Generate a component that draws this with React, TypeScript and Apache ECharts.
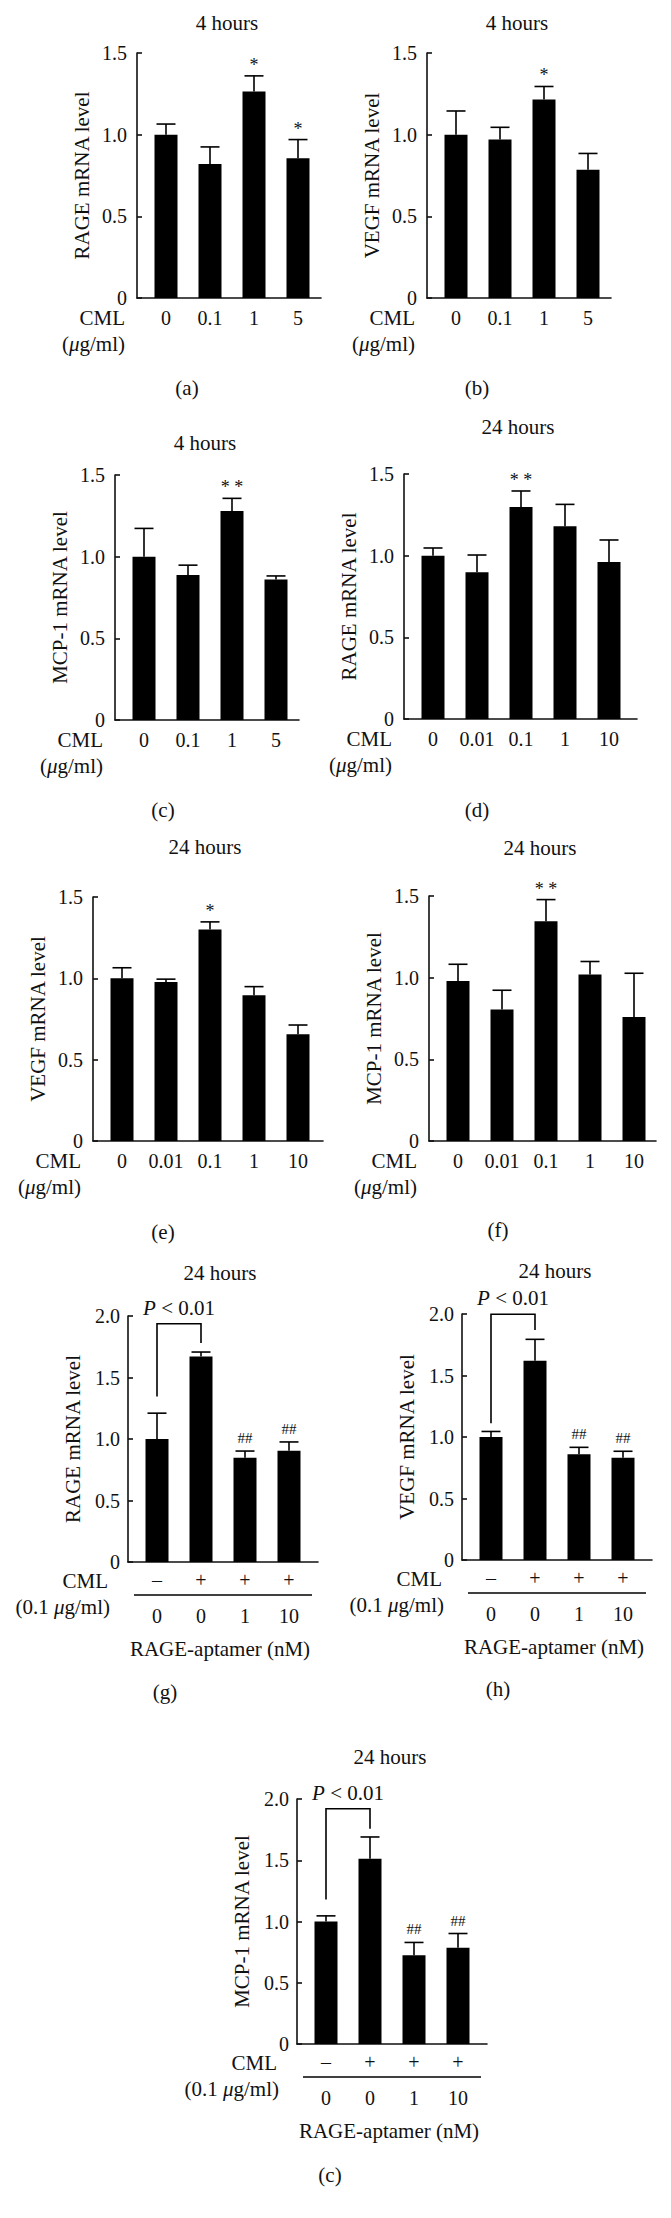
import React, { useEffect, useRef } from 'react';
import * as echarts from 'echarts';

const W = 671;
const H = 2218;
const FONT = '"Liberation Serif", "Times New Roman", serif';

// ---------- data ----------
const dose4h = ['0', '0.1', '1', '5'];
const dose24h = ['0', '0.01', '0.1', '1', '10'];
const aptCML = ['\u2013', '+', '+', '+'];
const aptDose = ['0', '0', '1', '10'];

const rage4hMean = [1.0, 0.82, 1.265, 0.855];
const rage4hErr = [0.065, 0.105, 0.095, 0.115];
const rage4hSig = ['', '', '*', '*'];

const vegf4hMean = [1.0, 0.97, 1.215, 0.785];
const vegf4hErr = [0.145, 0.075, 0.08, 0.1];
const vegf4hSig = ['', '', '*', ''];

const mcp4hMean = [1.0, 0.888, 1.28, 0.86];
const mcp4hErr = [0.173, 0.06, 0.077, 0.022];
const mcp4hSig = ['', '', '* *', ''];

const rage24hMean = [1.0, 0.898, 1.298, 1.18, 0.961];
const rage24hErr = [0.047, 0.106, 0.098, 0.134, 0.135];
const rage24hSig = ['', '', '* *', '', ''];

const vegf24hMean = [1.0, 0.977, 1.3, 0.896, 0.656];
const vegf24hErr = [0.065, 0.018, 0.047, 0.053, 0.057];
const vegf24hSig = ['', '', '*', '', ''];

const mcp24hMean = [0.98, 0.805, 1.345, 1.019, 0.759];
const mcp24hErr = [0.102, 0.118, 0.133, 0.08, 0.268];
const mcp24hSig = ['', '', '* *', '', ''];

const rageAptMean = [1.0, 1.671, 0.848, 0.905];
const rageAptErr = [0.21, 0.036, 0.054, 0.071];
const vegfAptMean = [1.0, 1.62, 0.859, 0.832];
const vegfAptErr = [0.045, 0.174, 0.057, 0.052];
const mcpAptMean = [1.0, 1.513, 0.725, 0.785];
const mcpAptErr = [0.046, 0.177, 0.104, 0.117];
const aptSig = ['', '', '##', '##'];

// bracket: [fromCat, toCat, leftLegBottom, top, rightLegBottom]
const rageAptBracket = [0, 1, 1.345, 1.937, 1.78];
const vegfAptBracket = [0, 1, 1.111, 1.998, 1.87];
const mcpAptBracket = [0, 1, 1.18, 1.921, 1.758];

const yTicks4 = [0, 0.5, 1.0, 1.5];
const yTicksApt = [0, 0.5, 1.0, 1.5, 2.0];

type Panel = {
  title: string;
  letter: string;
  yName: string;
  cats: string[];
  mean: number[];
  err: number[];
  sig: string[];
  yTicks: number[];
  apt: boolean;
  bracket?: number[];
};

const panels: Panel[] = [
  { title: '4 hours', letter: '(a)', yName: 'RAGE mRNA level', cats: dose4h, mean: rage4hMean, err: rage4hErr, sig: rage4hSig, yTicks: yTicks4, apt: false },
  { title: '4 hours', letter: '(b)', yName: 'VEGF mRNA level', cats: dose4h, mean: vegf4hMean, err: vegf4hErr, sig: vegf4hSig, yTicks: yTicks4, apt: false },
  { title: '4 hours', letter: '(c)', yName: 'MCP-1 mRNA level', cats: dose4h, mean: mcp4hMean, err: mcp4hErr, sig: mcp4hSig, yTicks: yTicks4, apt: false },
  { title: '24 hours', letter: '(d)', yName: 'RAGE mRNA level', cats: dose24h, mean: rage24hMean, err: rage24hErr, sig: rage24hSig, yTicks: yTicks4, apt: false },
  { title: '24 hours', letter: '(e)', yName: 'VEGF mRNA level', cats: dose24h, mean: vegf24hMean, err: vegf24hErr, sig: vegf24hSig, yTicks: yTicks4, apt: false },
  { title: '24 hours', letter: '(f)', yName: 'MCP-1 mRNA level', cats: dose24h, mean: mcp24hMean, err: mcp24hErr, sig: mcp24hSig, yTicks: yTicks4, apt: false },
  { title: '24 hours', letter: '(g)', yName: 'RAGE mRNA level', cats: aptDose, mean: rageAptMean, err: rageAptErr, sig: aptSig, yTicks: yTicksApt, apt: true, bracket: rageAptBracket },
  { title: '24 hours', letter: '(h)', yName: 'VEGF mRNA level', cats: aptDose, mean: vegfAptMean, err: vegfAptErr, sig: aptSig, yTicks: yTicksApt, apt: true, bracket: vegfAptBracket },
  { title: '24 hours', letter: '(c)', yName: 'MCP-1 mRNA level', cats: aptDose, mean: mcpAptMean, err: mcpAptErr, sig: aptSig, yTicks: yTicksApt, apt: true, bracket: mcpAptBracket },
];

// ---------- layout (positions only) ----------
const FIRST_OFF = 29;
const SPACING = 44;
const layouts = [
  { left: 137, top: 53, h: 245, lastOff: 23, titleX: 227, titleY: 23, letterX: 187, letterY: 388 },
  { left: 427, top: 53, h: 245, lastOff: 23, titleX: 517, titleY: 23, letterX: 477, letterY: 388 },
  { left: 115, top: 475, h: 245, lastOff: 23, titleX: 205, titleY: 443, letterX: 163, letterY: 810 },
  { left: 404, top: 474, h: 245, lastOff: 28, titleX: 518, titleY: 427, letterX: 477, letterY: 810 },
  { left: 93, top: 897, h: 244, lastOff: 25, titleX: 205, titleY: 847, letterX: 163, letterY: 1232 },
  { left: 429, top: 896, h: 245, lastOff: 22, titleX: 540, titleY: 848, letterX: 498, letterY: 1230 },
  { left: 128, top: 1316, h: 246, lastOff: 29, titleX: 220, titleY: 1273, letterX: 165, letterY: 1692 },
  { left: 462, top: 1314, h: 246, lastOff: 29, titleX: 555, titleY: 1271, letterX: 498, letterY: 1689 },
  { left: 297, top: 1799, h: 245, lastOff: 29, titleX: 390, titleY: 1757, letterX: 330, letterY: 2175 },
];

const BLACK = '#111';
const TXT = (extra: any) => ({ fontFamily: FONT, fill: BLACK, ...extra });

function buildOption() {
  const grid: any[] = [];
  const xAxis: any[] = [];
  const yAxis: any[] = [];
  const series: any[] = [];
  const graphic: any[] = [];

  panels.forEach((p, i) => {
    const L = layouts[i];
    const n = p.cats.length;
    const width = FIRST_OFF + (n - 1) * SPACING + L.lastOff;
    const yMax = p.yTicks[p.yTicks.length - 1];
    grid.push({ left: L.left, top: L.top, width, height: L.h, containLabel: false });
    xAxis.push({
      gridIndex: i,
      type: 'value',
      min: -FIRST_OFF / SPACING,
      max: n - 1 + L.lastOff / SPACING,
      axisLine: { show: true, onZero: false, lineStyle: { color: BLACK, width: 1.6 } },
      axisTick: { show: false },
      axisLabel: { show: false },
      splitLine: { show: false },
    });
    yAxis.push({
      gridIndex: i,
      type: 'value',
      min: 0,
      max: yMax,
      interval: 0.5,
      name: p.yName,
      nameLocation: 'middle',
      nameGap: 45,
      nameTextStyle: { fontFamily: FONT, fontSize: 21, color: BLACK },
      axisLine: { show: true, onZero: false, lineStyle: { color: BLACK, width: 1.6 } },
      axisTick: { show: true, inside: true, length: 5, lineStyle: { color: BLACK, width: 1.6 } },
      axisLabel: {
        margin: p.apt ? 8 : 10,
        fontFamily: FONT,
        fontSize: 20,
        color: BLACK,
        formatter: (v: number) => (v === 0 ? '0' : v.toFixed(1)),
      },
      splitLine: { show: false },
    });

    // bars
    series.push({
      type: 'bar',
      xAxisIndex: i,
      yAxisIndex: i,
      barWidth: 23,
      itemStyle: { color: '#000' },
      data: p.mean.map((m, j) => [j, m]),
      z: 2,
    });
    // error bars
    series.push({
      type: 'custom',
      xAxisIndex: i,
      yAxisIndex: i,
      clip: false,
      z: 3,
      data: p.mean.map((m, j) => [j, m, p.err[j]]),
      renderItem: (params: any, api: any) => {
        const x = api.value(0);
        const m = api.value(1);
        const e = api.value(2);
        const base = api.coord([x, m]);
        const top = api.coord([x, m + e]);
        const st = { stroke: '#000', lineWidth: 1.6 };
        return {
          type: 'group',
          children: [
            { type: 'line', shape: { x1: top[0], y1: base[1], x2: top[0], y2: top[1] }, style: st },
            { type: 'line', shape: { x1: top[0] - 9.5, y1: top[1], x2: top[0] + 9.5, y2: top[1] }, style: st },
          ],
        };
      },
    });
    // significance marks
    series.push({
      type: 'custom',
      xAxisIndex: i,
      yAxisIndex: i,
      clip: false,
      z: 4,
      data: p.mean.map((m, j) => [j, m + p.err[j]]),
      renderItem: (params: any, api: any) => {
        const s = p.sig[params.dataIndex];
        if (!s) return null;
        const pt = api.coord([api.value(0), api.value(1)]);
        const isHash = s.indexOf('#') >= 0;
        return {
          type: 'text',
          x: pt[0],
          y: pt[1] - (isHash ? 13 : 11),
          style: TXT({ text: s, fontSize: isHash ? 15 : 18, textAlign: 'center', textVerticalAlign: 'middle' }),
        };
      },
    });
    // category labels (x tick labels)
    series.push({
      type: 'custom',
      xAxisIndex: i,
      yAxisIndex: i,
      clip: false,
      z: 4,
      data: p.cats.map((c, j) => [j, 0]),
      renderItem: (params: any, api: any) => {
        const pt = api.coord([api.value(0), 0]);
        const children: any[] = [];
        if (p.apt) {
          children.push({
            type: 'text', x: pt[0], y: pt[1] + 18,
            style: TXT({ text: aptCML[params.dataIndex], fontSize: 20, textAlign: 'center', textVerticalAlign: 'middle' }),
          });
          children.push({
            type: 'text', x: pt[0], y: pt[1] + 54,
            style: TXT({ text: p.cats[params.dataIndex], fontSize: 20, textAlign: 'center', textVerticalAlign: 'middle' }),
          });
        } else {
          children.push({
            type: 'text', x: pt[0], y: pt[1] + 20,
            style: TXT({ text: p.cats[params.dataIndex], fontSize: 20, textAlign: 'center', textVerticalAlign: 'middle' }),
          });
        }
        return { type: 'group', children };
      },
    });
    // bracket
    if (p.bracket) {
      const b = p.bracket;
      series.push({
        type: 'custom',
        xAxisIndex: i,
        yAxisIndex: i,
        clip: false,
        z: 4,
        data: [b],
        renderItem: (params: any, api: any) => {
          const x1 = api.value(0), x2 = api.value(1);
          const yl = api.value(2), yt = api.value(3), yr = api.value(4);
          const p1 = api.coord([x1, yl]);
          const p2 = api.coord([x1, yt]);
          const p3 = api.coord([x2, yt]);
          const p4 = api.coord([x2, yr]);
          return {
            type: 'group',
            children: [
              { type: 'polyline', shape: { points: [p1, p2, p3, p4] }, style: { stroke: '#000', lineWidth: 1.6, fill: null } },
              {
                type: 'text', x: (p2[0] + p3[0]) / 2, y: p2[1] - 16,
                style: TXT({
                  text: '{i|P} < 0.01', fontSize: 21, textAlign: 'center', textVerticalAlign: 'middle',
                  rich: { i: { fontStyle: 'italic', fontFamily: FONT, fontSize: 21, fill: BLACK } },
                }),
              },
            ],
          };
        },
      });
    }

    // graphic texts
    graphic.push({ type: 'text', x: L.titleX, y: L.titleY, style: TXT({ text: p.title, fontSize: 21, textAlign: 'center', textVerticalAlign: 'middle' }) });
    graphic.push({ type: 'text', x: L.letterX, y: L.letterY, style: TXT({ text: p.letter, fontSize: 21, textAlign: 'center', textVerticalAlign: 'middle' }) });
    const bottom = L.top + L.h;
    if (p.apt) {
      graphic.push({ type: 'text', x: L.left - 20, y: bottom + 19, style: TXT({ text: 'CML', fontSize: 21, textAlign: 'right', textVerticalAlign: 'middle' }) });
      graphic.push({
        type: 'text', x: L.left - 18, y: bottom + 45,
        style: TXT({
          text: '(0.1 {i|\u03bc}g/ml)', fontSize: 21, textAlign: 'right', textVerticalAlign: 'middle',
          rich: { i: { fontStyle: 'italic', fontFamily: FONT, fontSize: 21, fill: BLACK } },
        }),
      });
      graphic.push({
        type: 'line', shape: { x1: L.left + 6, y1: bottom + 33, x2: L.left + width - 6, y2: bottom + 33 },
        style: { stroke: '#000', lineWidth: 1.6 },
      });
      graphic.push({ type: 'text', x: L.left + width / 2 - 3, y: bottom + 87, style: TXT({ text: 'RAGE-aptamer (nM)', fontSize: 21, textAlign: 'center', textVerticalAlign: 'middle' }) });
    } else {
      graphic.push({ type: 'text', x: L.left - 12, y: bottom + 20, style: TXT({ text: 'CML', fontSize: 21, textAlign: 'right', textVerticalAlign: 'middle' }) });
      graphic.push({
        type: 'text', x: L.left - 12, y: bottom + 46,
        style: TXT({
          text: '({i|\u03bc}g/ml)', fontSize: 21, textAlign: 'right', textVerticalAlign: 'middle',
          rich: { i: { fontStyle: 'italic', fontFamily: FONT, fontSize: 21, fill: BLACK } },
        }),
      });
    }
  });

  return {
    animation: false,
    backgroundColor: '#ffffff',
    textStyle: { fontFamily: FONT },
    grid,
    xAxis,
    yAxis,
    series,
    graphic,
  };
}

export default function App() {
  const ref = useRef<HTMLDivElement>(null);
  useEffect(() => {
    if (!ref.current) return;
    const chart = echarts.init(ref.current, null, { renderer: 'svg', width: W, height: H });
    chart.setOption(buildOption() as any);
    return () => chart.dispose();
  }, []);
  return (
    <div
      ref={ref}
      style={{ position: 'absolute', left: 0, top: 0, width: W, height: H, background: '#fff' }}
    />
  );
}
